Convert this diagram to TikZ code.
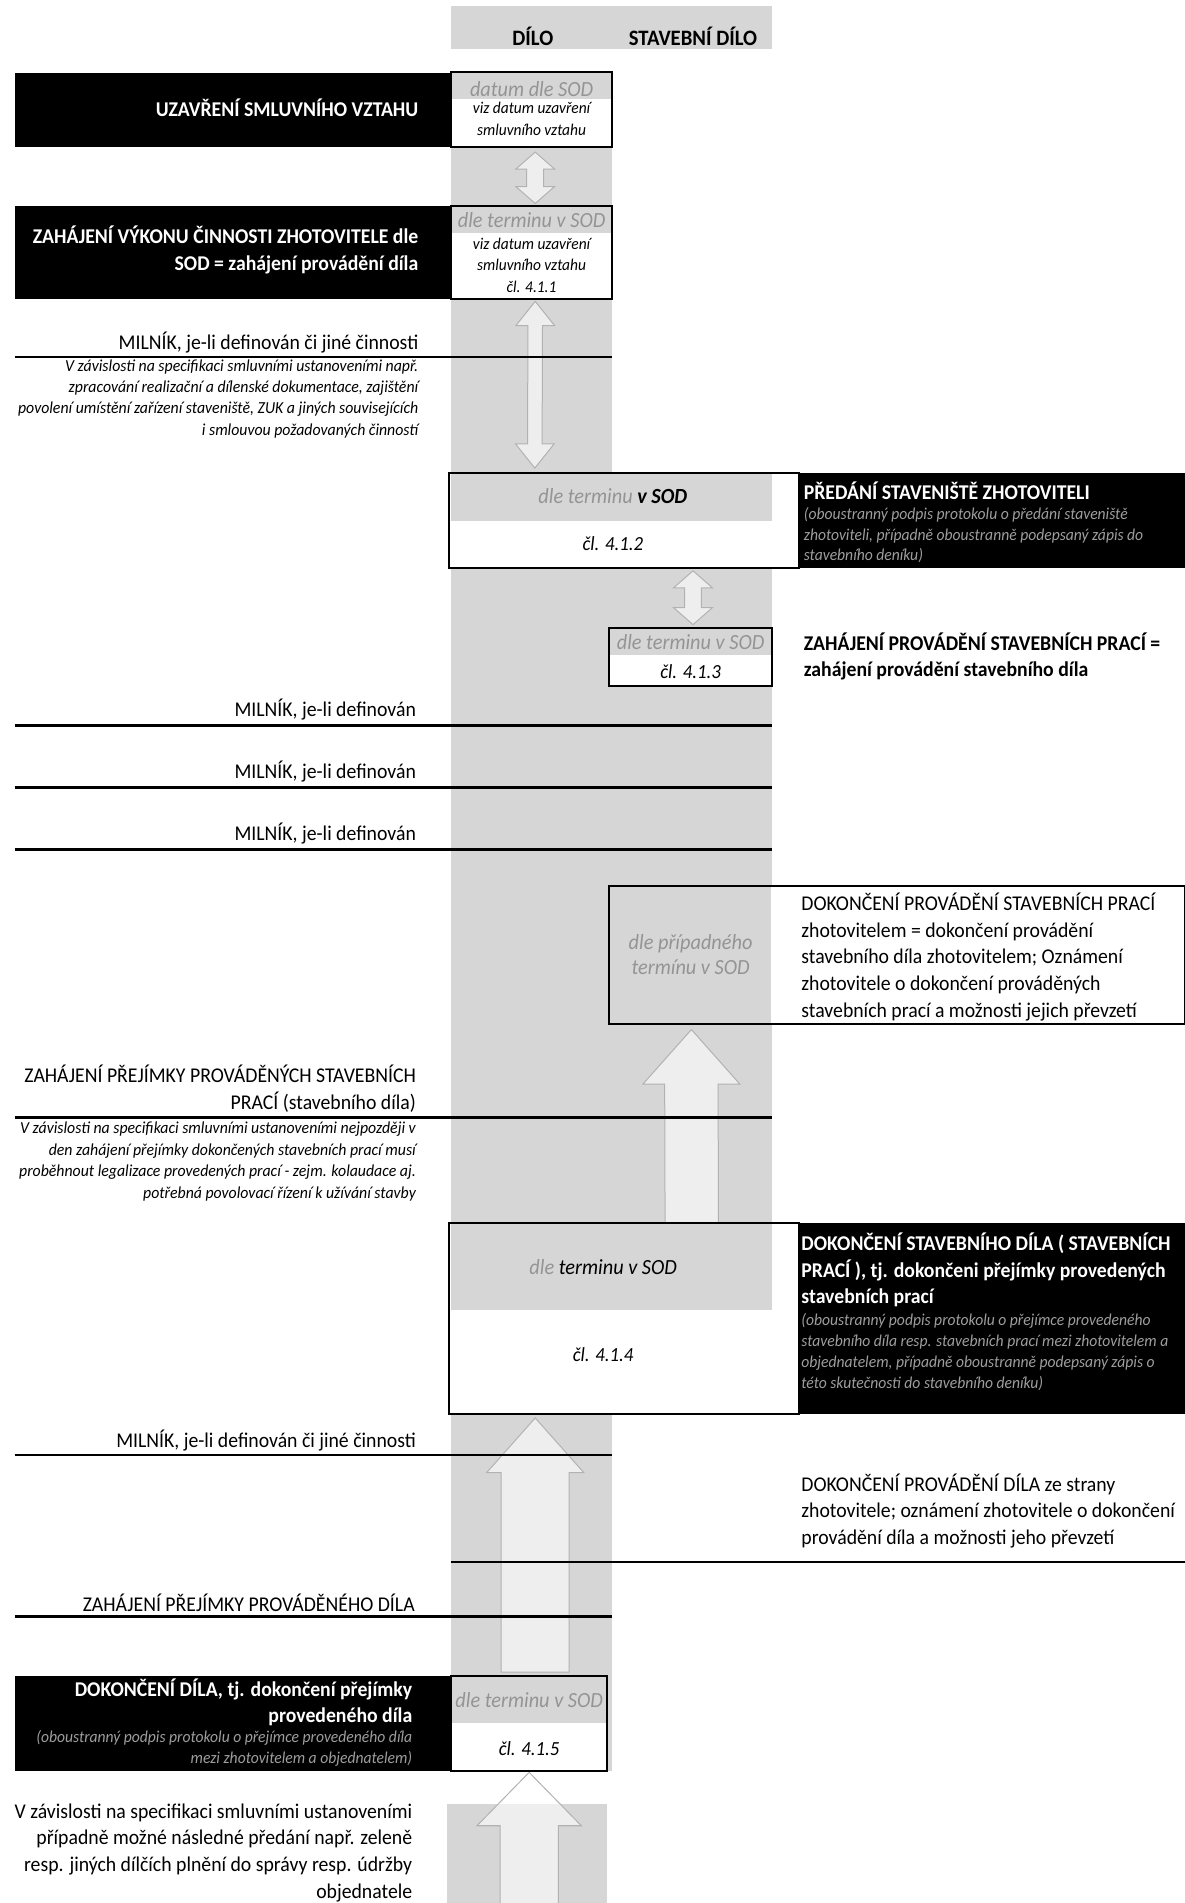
\documentclass[tikz,border=0pt]{standalone}
\usepackage{fontspec}
\setmainfont{Carlito}[FakeStretch=0.94]
\usepackage{tikz}
\usetikzlibrary{calc}
\usetikzlibrary{fit}

\definecolor{bandgray}{gray}{0.84}
\definecolor{softgray}{gray}{0.58}
\definecolor{notegray}{gray}{0.62}

% block arrow pointing up: tail, tip, shaft half width, head half width, head length
\newcommand{\blkup}[5]{%
  \filldraw[blkarrow] ($(#1)+(-#3,0)$) -- ($(#2)+(-#3,#5)$) -- ($(#2)+(-#4,#5)$) -- (#2)
    -- ($(#2)+(#4,#5)$) -- ($(#2)+(#3,#5)$) -- ($(#1)+(#3,0)$) -- cycle;}
% block arrow with two heads: top tip, bottom tip, shaft half width, head half width, head length
\newcommand{\blkdbl}[5]{%
  \filldraw[blkarrow] (#1) -- ($(#1)+(#4,#5)$) -- ($(#1)+(#3,#5)$) -- ($(#2)+(#3,-#5)$)
    -- ($(#2)+(#4,-#5)$) -- (#2) -- ($(#2)+(-#4,-#5)$) -- ($(#2)+(-#3,-#5)$)
    -- ($(#1)+(-#3,#5)$) -- ($(#1)+(-#4,#5)$) -- cycle;}

\begin{document}
\begin{tikzpicture}[x=0.6066pt, y=-0.6066pt,
    band/.style={fill=bandgray},
    blackbox/.style={fill=black, inner sep=0pt},
    whitebox/.style={fill=white, inner sep=0pt},
    frame/.style={line width=1pt},
    milestone/.style={line width=1.3pt},
    blkarrow/.style={fill=white, fill opacity=0.6, draw=gray!60, draw opacity=1, line width=0.5pt},
    head/.style={inner sep=0pt, font=\fontsize{11}{13}\selectfont\bfseries},
    lbl/.style={inner sep=0pt, font=\fontsize{10.5}{13.3}\selectfont},
    lblb/.style={inner sep=0pt, font=\fontsize{10.5}{13.3}\selectfont\bfseries},
    note/.style={inner sep=0pt, font=\fontsize{8.4}{10.7}\selectfont\itshape},
    boxnote/.style={inner sep=0pt, text=notegray, font=\fontsize{8.3}{10.4}\selectfont\itshape},
    datetxt/.style={inner sep=0pt, text=softgray, font=\fontsize{10.8}{12.7}\selectfont\itshape},
    viztxt/.style={inner sep=0pt, font=\fontsize{8.2}{10.6}\selectfont\itshape},
    cltxt/.style={inner sep=0pt, font=\fontsize{10}{12}\selectfont\itshape}]
\useasboundingbox (0,0) rectangle (976,1568);

% columns
\fill[band] (372,5) rectangle (636,40);
\node[head] (hdilo) at (439,30) {DÍLO};
\node[head] (hstav) at (571,30) {STAVEBNÍ DÍLO};
\fill[band] (372,60) rectangle (504,1459);
\fill[band] (504,390) rectangle (636,1008);
\fill[band] (368,1486) rectangle (500,1568);

% boxes
\node[blackbox, fit={(12,60) (372,121)}] (uzav) {};
\node[whitebox, fit={(372,60) (504,121)}] (datum) {};
\node[blackbox, fit={(12,170) (372,246)}] (zahvyk) {};
\node[whitebox, fit={(372,170) (504,246)}] (t411) {};
\node[whitebox, fit={(370,390) (658,468)}] (t412) {};
\node[blackbox, fit={(658,390) (976,468)}] (predani) {};
\node[whitebox, fit={(502,518) (636,565)}] (t413) {};
\node[whitebox, fit={(502,730) (976,843)}] (dokprov) {};
\node[whitebox, fit={(370,1008) (658,1165)}] (t414) {};
\node[blackbox, fit={(658,1008) (976,1165)}] (dokstav) {};
\node[blackbox, fit={(12,1381) (372,1459)}] (dokdilo) {};
\node[whitebox, fit={(372,1381) (500,1459)}] (t415) {};

\fill[band] (datum.north west) rectangle ($(datum.north east)+(0,22)$);
\fill[band] (t411.north west) rectangle ($(t411.north east)+(0,22)$);
\fill[band] ($(t412.north west)+(2,0)$) rectangle ($(t412.north east)+(-22,40)$);
\fill[band] (t413.north west) rectangle ($(t413.north east)+(0,22)$);
\fill[band] (dokprov.north west) rectangle ($(dokprov.south west)+(134,0)$);
\fill[band] ($(t414.north west)+(2,0)$) rectangle ($(t414.north east)+(-22,72)$);
\fill[band] (t415.north west) rectangle ($(t415.north east)+(0,39)$);

% arrows
\blkdbl{$(datum.south)+(3,4)$}{$(t411.north)+(3,-2)$}{7}{16}{14}
\blkdbl{$(t411.south)+(3,2)$}{$(t412.north west)+(71,-4)$}{6}{16}{20}
\blkdbl{$(t412.south)+(57,2)$}{$(t413.north)+(2,-3)$}{7}{16}{14}
\blkup{$(t414.north)+(56,0)$}{$(dokprov.south west)+(68,5)$}{22}{40}{45}
\blkup{$(t415.north)+(5,-3)$}{$(t414.south)+(-73,3)$}{28}{40}{45}
\coordinate (bottomend) at (436,1570);
\blkup{bottomend}{$(t415.south)+(0,1)$}{24}{43}{44}

% milestones
\draw[milestone] (12,294) -- (504,294);
\foreach \y in {598,649,700}
  \draw[milestone] (12,\y) -- (636,\y);
\draw[milestone] (12,921) -- (636,921);
\draw[milestone] (12,1199) -- (504,1199);
\draw[milestone] (372,1287) -- (976,1287);
\draw[milestone] (12,1332) -- (504,1332);

% frames
\draw[frame] (datum.north west) rectangle (datum.south east);
\draw[frame] (t411.north west) rectangle (t411.south east);
\draw[frame] (t412.north west) rectangle (t412.south east);
\draw[frame] (t413.north west) rectangle (t413.south east);
\draw[frame] (dokprov.north west) rectangle (dokprov.south east);
\draw[frame] (t414.north west) rectangle (t414.south east);
\draw[frame] (t415.north west) rectangle (t415.south east);

% texts
\node[lblb, text=white, anchor=east] (uzavtxt) at (345,89) {UZAVŘENÍ SMLUVNÍHO VZTAHU};
\node[datetxt] (datumtxt) at (438,73) {datum dle SOD};
\node[viztxt, align=center] (viz1) at (438,98) {viz datum uzavření\\smluvního vztahu};

\node[lblb, text=white, anchor=east, align=right] (zahvyktxt) at (345,206)
  {ZAHÁJENÍ VÝKONU ČINNOSTI ZHOTOVITELE dle\\SOD = zahájení provádění díla};
\node[datetxt] (t411a) at (438,181) {dle terminu v SOD};
\node[viztxt, align=center] (t411b) at (438,218.5) {viz datum uzavření\\smluvního vztahu\\čl. 4.1.1};

\node[lbl, anchor=east] (mil1) at (345,282) {MILNÍK, je-li definován či jiné činnosti};
\node[note, anchor=east, align=right] (mil1note) at (345,328.5)
  {V závislosti na specifikaci smluvními ustanoveními např.\\zpracování realizační a dílenské dokumentace, zajištění\\povolení umístění zařízení staveniště, ZUK a jiných souvisejících\\i smlouvou požadovaných činností};

\node[datetxt] (t412a) at (505,409) {dle terminu \textcolor{black}{\bfseries v SOD}};
\node[cltxt] (t412b) at (505,448) {čl. 4.1.2};
\node[lblb, text=white, anchor=west] (predanitxt) at (662,404) {PŘEDÁNÍ STAVENIŠTĚ ZHOTOVITELI};
\node[boxnote, anchor=west, align=left] (predaninote) at (662,441)
  {(oboustranný podpis protokolu o předání staveniště\\zhotoviteli, případně oboustranně podepsaný zápis do\\stavebního deníku)};

\node[datetxt] (t413a) at (569,529) {dle terminu v SOD};
\node[cltxt] (t413b) at (569,553) {čl. 4.1.3};
\node[lblb, anchor=west, align=left] (zahprovtxt) at (662,541)
  {ZAHÁJENÍ PROVÁDĚNÍ STAVEBNÍCH PRACÍ =\\zahájení provádění stavebního díla};

\foreach \y/\n in {598/2,649/3,700/4}
  \node[lbl, anchor=east] (mil\n) at (343,\y-13) {MILNÍK, je-li definován};

\node[datetxt, align=center] (dokprova) at (569,786.5) {dle případného\\termínu v SOD};
\node[lbl, anchor=west, align=left] (dokprovtxt) at (660,788.5)
  {DOKONČENÍ PROVÁDĚNÍ STAVEBNÍCH PRACÍ\\zhotovitelem = dokončení provádění\\stavebního díla zhotovitelem; Oznámení\\zhotovitele o dokončení prováděných\\stavebních prací a možnosti jejich převzetí};

\node[lbl, anchor=east, align=right] (prej1) at (343,897)
  {ZAHÁJENÍ PŘEJÍMKY PROVÁDĚNÝCH STAVEBNÍCH\\PRACÍ (stavebního díla)};
\node[note, anchor=east, align=right] (prej1note) at (343,957)
  {V závislosti na specifikaci smluvními ustanoveními nejpozději v\\den zahájení přejímky dokončených stavebních prací musí\\proběhnout legalizace provedených prací - zejm. kolaudace aj.\\potřebná povolovací řízení k užívání stavby};

\node[datetxt] (t414a) at (497,1044) {dle \textcolor{black}{terminu v SOD}};
\node[cltxt] (t414b) at (497,1116) {čl. 4.1.4};
\node[lblb, text=white, anchor=west, align=left] (dokstavtxt) at (660,1046.5)
  {DOKONČENÍ STAVEBNÍHO DÍLA ( STAVEBNÍCH\\PRACÍ ), tj. dokončeni přejímky provedených\\stavebních prací};
\node[boxnote, anchor=west, align=left] (dokstavnote) at (660,1114)
  {(oboustranný podpis protokolu o přejímce provedeného\\stavebního díla resp. stavebních prací mezi zhotovitelem a\\objednatelem,  případně oboustranně podepsaný zápis o\\této skutečnosti do stavebního deníku)};

\node[lbl, anchor=east] (mil5) at (343,1187) {MILNÍK, je-li definován či jiné činnosti};
\node[lbl, anchor=west, align=left] (dokdilotxt2) at (660,1245)
  {DOKONČENÍ PROVÁDĚNÍ DÍLA ze strany\\zhotovitele; oznámení zhotovitele o dokončení\\provádění díla a možnosti jeho převzetí};
\node[lbl, anchor=east] (prej2) at (342,1321) {ZAHÁJENÍ PŘEJÍMKY PROVÁDĚNÉHO DÍLA};

\node[datetxt] (t415a) at (436,1401) {dle terminu v SOD};
\node[cltxt] (t415b) at (436,1441) {čl. 4.1.5};
\node[lblb, text=white, anchor=east, align=right] (dokdilotxt) at (340,1402.5)
  {DOKONČENÍ DÍLA, tj. dokončení přejímky\\provedeného díla};
\node[boxnote, anchor=east, align=right] (dokdilonote) at (340,1440.5)
  {(oboustranný podpis protokolu o přejímce provedeného díla\\mezi zhotovitelem a objednatelem)};

\node[lbl, anchor=east, align=right] (predanizel) at (340,1526.5)
  {V závislosti na specifikaci smluvními ustanoveními\\případně možné následné předání např. zeleně\\resp. jiných dílčích plnění do správy resp. údržby\\objednatele};
\end{tikzpicture}
\end{document}
